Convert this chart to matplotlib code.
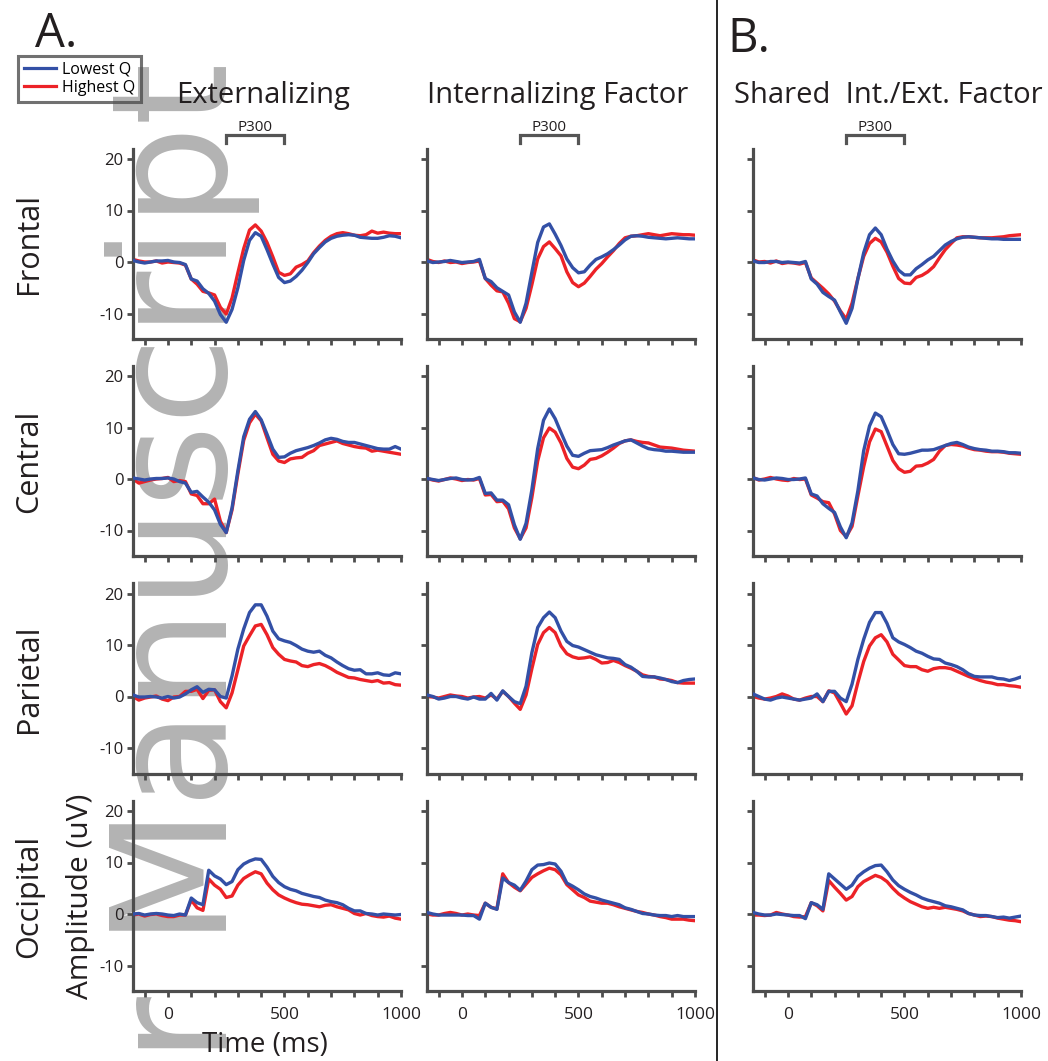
import numpy as np
import matplotlib
matplotlib.use('Agg')
import matplotlib.pyplot as plt
from matplotlib.lines import Line2D

plt.rcParams['font.family'] = ['Open Sans', 'DejaVu Sans']
plt.rcParams['axes.unicode_minus'] = False

# sample times (ms), 25 ms steps
time_ms = np.arange(-150, 1001, 25)

regions = ['Frontal', 'Central', 'Parietal', 'Occipital']
factors = ['Externalizing', 'Internalizing Factor', 'Shared  Int./Ext. Factor']
legend_labels = ['Lowest Q', 'Highest Q']

# ---- Frontal ----
ext_frontal_low = [0.3, 0.0, -0.2, 0.0, 0.2, 0.2, 0.3, 0.0, -0.1, -0.5, -3.3,
                   -3.7, -5.2, -6.1, -7.6, -10.2, -11.7, -9.2, -5.0, 0.3, 4.2,
                   5.7, 5.0, 2.4, -0.4, -3.0, -4.0, -3.7, -2.8, -1.6, -0.1,
                   1.6, 2.8, 3.9, 4.6, 5.0, 5.2, 5.3, 5.2, 4.8, 4.7,
                   4.6, 4.6, 4.8, 5.1, 5.0, 4.7]
ext_frontal_high = [0.5, 0.2, 0.0, 0.0, 0.2, -0.2, 0.0, -0.1, -0.2, -0.6, -3.3,
                    -4.3, -5.7, -6.0, -6.4, -8.8, -10.1, -7.0, -2.1, 2.6, 6.2,
                    7.2, 6.0, 3.8, 1.0, -2.0, -2.6, -2.3, -1.0, -0.5, 0.2,
                    1.8, 3.1, 4.2, 5.0, 5.5, 5.7, 5.5, 5.2, 5.1, 5.3,
                    6.0, 5.6, 5.8, 5.6, 5.5, 5.5]
int_frontal_low = [0.2, -0.1, 0.0, 0.1, 0.3, 0.1, -0.1, 0.0, 0.1, 0.5, -3.2,
                   -3.8, -5.0, -5.7, -6.4, -9.7, -11.7, -8.0, -2.0, 3.8, 6.8,
                   7.4, 5.4, 3.2, 0.6, -1.1, -2.1, -1.9, -0.6, 0.5, 1.0,
                   1.6, 2.4, 3.3, 4.3, 5.0, 5.1, 5.0, 4.8, 4.7, 4.6,
                   4.5, 4.6, 4.7, 4.6, 4.5, 4.5]
int_frontal_high = [0.5, 0.1, -0.1, 0.2, -0.1, 0.0, -0.3, -0.1, 0.0, 0.2, -3.2,
                    -4.5, -5.6, -5.8, -8.0, -11.0, -11.6, -9.0, -4.4, 0.6, 3.0,
                    3.9, 2.6, 1.2, -1.9, -4.0, -4.8, -4.1, -2.8, -1.4, -0.3,
                    1.0, 2.2, 3.6, 4.7, 5.0, 5.1, 5.3, 5.5, 5.3, 5.1,
                    5.3, 5.5, 5.4, 5.3, 5.3, 5.2]
shr_frontal_low = [0.2, -0.1, -0.1, 0.1, 0.1, -0.1, 0.0, -0.1, -0.2, 0.1, -3.3,
                   -4.3, -5.9, -6.7, -7.4, -9.7, -11.9, -9.0, -3.3, 1.8, 5.3,
                   6.6, 5.3, 2.5, 0.2, -1.6, -2.5, -2.5, -1.3, -0.5, 0.4,
                   1.1, 2.2, 3.3, 4.0, 4.5, 4.8, 4.9, 4.8, 4.7, 4.6,
                   4.5, 4.5, 4.4, 4.4, 4.4, 4.4]
shr_frontal_high = [0.4, 0.0, 0.1, -0.2, 0.2, -0.3, -0.1, -0.2, -0.4, -0.1, -3.1,
                    -4.1, -5.1, -6.2, -7.6, -9.5, -11.1, -8.0, -3.2, 1.1, 3.6,
                    4.6, 3.9, 1.9, -0.8, -3.2, -4.1, -4.2, -3.0, -2.6, -1.9,
                    -0.9, 0.8, 2.4, 3.6, 4.7, 4.9, 4.9, 4.8, 4.7, 4.7,
                    4.7, 4.8, 4.9, 5.1, 5.2, 5.3]

# ---- Central ----
ext_central_low = [0.2, 0.0, -0.2, 0.0, 0.1, 0.1, 0.2, 0.0, -0.5, -0.8, -2.6,
                   -2.4, -3.5, -4.5, -6.0, -8.8, -10.4, -5.6, 1.6, 8.2, 11.6,
                   13.1, 11.5, 8.7, 5.8, 4.2, 4.3, 5.0, 5.5, 5.8, 6.1,
                   6.5, 7.0, 7.6, 7.9, 7.7, 7.3, 7.1, 7.1, 6.8, 6.5,
                   6.2, 5.9, 5.8, 5.8, 6.3, 5.8]
ext_central_high = [0.0, -0.8, -0.5, -0.2, 0.0, 0.1, 0.3, -0.5, -0.3, -0.5, -2.9,
                    -3.2, -4.8, -4.8, -3.9, -8.2, -10.4, -6.0, 1.0, 7.5, 10.9,
                    12.6, 11.3, 8.0, 4.8, 3.5, 3.2, 3.9, 4.1, 4.2, 5.0,
                    5.5, 6.5, 6.8, 7.1, 7.4, 6.9, 6.6, 6.3, 6.1, 6.0,
                    5.4, 5.6, 5.4, 5.2, 5.0, 4.8]
int_central_low = [0.1, -0.1, -0.3, -0.1, 0.1, 0.2, -0.1, -0.2, -0.1, 0.3, -2.8,
                   -2.7, -4.1, -4.1, -5.0, -8.9, -11.7, -8.6, -2.1, 5.9, 11.4,
                   13.6, 11.7, 9.0, 6.4, 4.6, 4.4, 5.0, 5.5, 5.6, 5.7,
                   6.1, 6.6, 7.0, 7.4, 7.6, 7.0, 6.4, 5.9, 5.7, 5.6,
                   5.4, 5.4, 5.3, 5.2, 5.2, 5.2]
int_central_high = [0.1, -0.2, -0.4, -0.1, 0.2, 0.0, -0.3, -0.1, -0.2, 0.1, -3.1,
                    -3.0, -4.4, -4.3, -5.8, -9.5, -11.6, -9.5, -3.6, 3.5, 8.0,
                    9.9, 9.1, 7.0, 4.0, 2.3, 2.0, 2.7, 3.8, 4.0, 4.5,
                    5.2, 6.0, 6.9, 7.4, 7.6, 7.3, 7.1, 7.0, 6.6, 6.2,
                    6.1, 6.0, 5.8, 5.6, 5.5, 5.4]
shr_central_low = [0.2, -0.1, -0.2, 0.0, 0.2, 0.1, -0.1, -0.1, 0.0, 0.2, -2.9,
                   -3.3, -4.8, -5.7, -6.5, -9.3, -11.4, -8.5, -2.3, 5.5, 10.3,
                   12.8, 12.1, 9.5, 6.7, 4.9, 4.8, 5.0, 5.3, 5.6, 5.6,
                   5.7, 6.1, 6.5, 6.9, 7.1, 6.7, 6.2, 5.9, 5.7, 5.6,
                   5.4, 5.4, 5.3, 5.1, 5.1, 5.0]
shr_central_high = [0.3, -0.2, 0.0, 0.3, 0.0, -0.2, -0.3, 0.1, -0.1, 0.0, -3.1,
                    -3.7, -4.4, -4.6, -6.8, -10.0, -11.2, -9.2, -3.3, 2.4, 7.2,
                    9.7, 9.2, 6.4, 3.6, 2.0, 1.3, 1.5, 2.5, 2.6, 3.1,
                    3.8, 5.4, 6.5, 6.7, 6.6, 6.4, 6.0, 5.7, 5.6, 5.4,
                    5.3, 5.3, 5.2, 5.0, 4.9, 4.8]

# ---- Parietal ----
ext_parietal_low = [0.3, -0.1, -0.1, 0.0, -0.1, -0.3, 0.0, -0.3, -0.1, 0.5, 1.3,
                    1.9, 0.8, 1.4, 1.3, 0.0, -0.3, 4.0, 9.2, 13.1, 16.3,
                    17.8, 17.8, 15.6, 12.7, 11.2, 10.8, 10.5, 9.9, 9.2, 8.8,
                    8.6, 8.8, 8.0, 7.5, 6.7, 6.0, 5.4, 5.1, 5.2, 4.4,
                    4.4, 4.6, 4.2, 4.1, 4.6, 4.4]
ext_parietal_high = [0.0, -0.7, -0.3, -0.1, 0.1, -0.5, -0.8, -0.1, 0.0, 1.0, 1.0,
                     1.4, -0.4, 1.2, 1.3, -1.0, -2.2, 0.7, 5.2, 9.8, 11.8,
                     13.7, 14.0, 12.0, 9.5, 8.2, 7.2, 6.9, 6.7, 6.0, 5.8,
                     6.2, 6.4, 6.0, 5.4, 4.7, 4.2, 3.7, 3.6, 3.3, 3.1,
                     2.9, 3.1, 2.6, 2.7, 2.3, 2.2]
int_parietal_low = [0.3, 0.0, -0.5, -0.3, 0.0, 0.0, -0.3, -0.5, -0.1, -0.5, -0.5,
                    0.6, -0.7, 1.1, 0.0, -1.0, -1.4, 2.0, 8.5, 13.4, 15.3,
                    16.4, 15.3, 12.7, 10.7, 9.9, 9.6, 9.1, 8.6, 8.1, 7.8,
                    7.5, 7.4, 7.2, 6.2, 5.7, 4.9, 3.9, 3.8, 3.8, 3.6,
                    3.3, 2.9, 2.7, 3.1, 3.3, 3.4]
int_parietal_high = [0.0, -0.1, -0.3, 0.0, 0.3, 0.1, 0.0, -0.3, -0.1, 0.0, -0.3,
                     0.3, -0.5, 1.0, 0.0, -1.3, -2.5, 0.3, 5.4, 10.1, 12.4,
                     13.4, 12.4, 9.8, 8.3, 7.7, 7.4, 7.5, 7.7, 7.2, 6.5,
                     6.6, 7.0, 6.6, 6.0, 5.5, 4.9, 4.2, 3.9, 3.8, 3.4,
                     3.3, 3.1, 2.7, 2.6, 2.6, 2.6]
shr_parietal_low = [0.5, 0.0, -0.5, -0.7, -0.3, -0.1, -0.3, -0.5, -0.7, -0.5, -0.3,
                    0.5, -1.0, 1.0, 1.0, -0.3, -1.0, 2.4, 7.2, 11.1, 14.4,
                    16.3, 16.3, 14.2, 11.4, 10.6, 10.1, 9.5, 8.8, 8.4, 7.8,
                    7.3, 7.2, 6.5, 6.2, 5.8, 5.2, 4.4, 3.9, 3.8, 3.8,
                    3.8, 3.5, 3.4, 3.1, 3.4, 3.8]
shr_parietal_high = [0.0, -0.3, -0.5, -0.3, 0.0, 0.5, 0.1, -0.5, -0.7, -0.3, 0.0,
                     0.0, -1.0, 1.1, 0.7, -1.3, -3.4, -1.8, 2.7, 6.8, 9.8,
                     11.4, 12.0, 10.6, 8.2, 7.1, 6.0, 5.8, 5.8, 5.2, 4.9,
                     5.4, 5.6, 5.6, 5.4, 4.9, 4.4, 3.9, 3.5, 3.1, 2.8,
                     2.6, 2.3, 2.3, 2.1, 2.0, 1.8]

# ---- Occipital ----
ext_occipital_low = [0.0, 0.1, -0.2, 0.0, 0.1, 0.0, -0.2, -0.3, 0.0, -0.2, 3.1,
                     2.2, 1.8, 8.5, 7.4, 6.8, 5.7, 6.3, 8.6, 9.7, 10.3,
                     10.7, 10.6, 9.1, 7.3, 6.1, 5.3, 4.8, 4.5, 4.0, 3.7,
                     3.4, 3.2, 2.7, 2.4, 2.2, 1.8, 1.1, 0.6, 0.6, 0.1,
                     0.0, -0.2, 0.0, -0.1, -0.2, -0.1]
ext_occipital_high = [-0.2, 0.0, -0.4, -0.1, 0.0, -0.3, -0.5, -0.5, -0.2, -0.2, 2.7,
                      1.2, 0.7, 6.8, 5.6, 4.8, 3.2, 3.5, 5.6, 6.9, 7.6,
                      8.2, 7.8, 6.0, 4.7, 3.7, 3.1, 2.6, 2.2, 1.9, 1.8,
                      1.6, 1.4, 1.7, 1.8, 1.4, 1.1, 0.8, 0.1, -0.2, 0.1,
                      -0.3, -0.5, -0.6, -0.4, -0.8, -1.0]
int_occipital_low = [0.3, 0.0, -0.2, -0.2, -0.2, -0.2, -0.2, -0.3, -0.3, -1.0, 2.1,
                     1.3, 0.9, 7.0, 6.1, 5.6, 4.6, 6.4, 8.6, 9.5, 9.6,
                     9.9, 9.7, 8.3, 6.0, 5.4, 4.7, 3.9, 3.4, 3.1, 2.7,
                     2.4, 2.1, 1.8, 1.2, 0.9, 0.5, 0.1, 0.0, -0.2, -0.3,
                     -0.3, -0.5, -0.3, -0.5, -0.5, -0.5]
int_occipital_high = [0.0, -0.2, -0.2, 0.1, 0.3, 0.1, -0.2, 0.0, -0.2, -0.3, 2.1,
                      1.3, 1.0, 7.8, 6.1, 5.2, 4.5, 5.8, 7.1, 7.8, 8.4,
                      8.9, 8.6, 7.6, 5.7, 4.7, 3.7, 3.2, 2.5, 2.3, 2.1,
                      2.1, 1.8, 1.4, 1.1, 0.8, 0.5, 0.3, 0.0, -0.2, -0.5,
                      -0.7, -1.0, -1.0, -1.0, -1.2, -1.3]
shr_occipital_low = [0.3, 0.0, -0.2, -0.2, 0.0, -0.1, -0.2, -0.3, -0.3, -0.9, 2.2,
                     1.8, 0.9, 7.8, 6.8, 5.8, 4.8, 5.6, 7.3, 8.2, 8.9,
                     9.4, 9.5, 8.2, 6.6, 5.5, 4.8, 4.2, 3.7, 3.1, 2.7,
                     2.4, 2.1, 1.6, 1.4, 1.1, 0.8, 0.1, -0.2, -0.3, -0.3,
                     -0.5, -0.7, -0.6, -0.8, -0.6, -0.4]
shr_occipital_high = [-0.2, -0.2, -0.3, -0.2, 0.3, 0.0, -0.2, -0.5, -0.6, -0.5, 2.2,
                      1.6, 0.6, 6.5, 5.2, 4.0, 2.7, 3.4, 5.3, 6.3, 6.9,
                      7.5, 7.1, 6.3, 5.0, 3.9, 3.1, 2.4, 1.9, 1.4, 1.1,
                      1.3, 1.1, 1.3, 1.1, 0.9, 0.6, 0.1, -0.2, -0.5, -0.4,
                      -0.5, -0.8, -1.0, -1.2, -1.3, -1.5]

lowest_q = [[ext_frontal_low, int_frontal_low, shr_frontal_low],
            [ext_central_low, int_central_low, shr_central_low],
            [ext_parietal_low, int_parietal_low, shr_parietal_low],
            [ext_occipital_low, int_occipital_low, shr_occipital_low]]
highest_q = [[ext_frontal_high, int_frontal_high, shr_frontal_high],
             [ext_central_high, int_central_high, shr_central_high],
             [ext_parietal_high, int_parietal_high, shr_parietal_high],
             [ext_occipital_high, int_occipital_high, shr_occipital_high]]

BLUE = '#3350a6'
RED = '#ec2227'
AXC = '#4d4d4d'
TXT = '#231f20'

W, H = 1048, 1061
fig = plt.figure(figsize=(W / 100, H / 100), dpi=100)

# layout in pixels
col_left = [133, 427, 753]
ax_w = 268
row_zero = [262, 479, 696.5, 914]
px_uv = 5.15
ymin, ymax = -15, 22
ax_h = (ymax - ymin) * px_uv

# watermark behind everything
fig.text(227 / W, 1 - 62 / H, 'Author Manuscript', rotation=90, rotation_mode='anchor',
         ha='right', va='baseline', fontsize=115, color='#b3b3b3',
         family='DejaVu Sans', zorder=-5)

for r in range(4):
    top = row_zero[r] - ymax * px_uv
    for c in range(3):
        ax = fig.add_axes([col_left[c] / W, 1 - (top + ax_h) / H, ax_w / W, ax_h / H])
        ax.patch.set_alpha(0)
        ax.plot(time_ms, highest_q[r][c], color=RED, lw=2.4, zorder=2)
        ax.plot(time_ms, lowest_q[r][c], color=BLUE, lw=2.4, zorder=3)
        ax.set_xlim(-150, 1000)
        ax.set_ylim(ymin, ymax)

        for s in ['top', 'right']:
            ax.spines[s].set_visible(False)
        for s in ['left', 'bottom']:
            ax.spines[s].set_linewidth(2.3)
            ax.spines[s].set_color(AXC)

        ax.set_yticks([-10, 0, 10, 20])
        ax.set_xticks(np.arange(-100, 1001, 100))
        ax.tick_params(direction='out', length=4, width=2, color=AXC,
                       labelcolor=TXT, labelsize=12)
        ax.tick_params(axis='x', pad=7, labelsize=12.5)
        ax.tick_params(axis='y', pad=3)
        if c == 0:
            ax.set_yticklabels(['-10', '0', '10', '20'])
        else:
            ax.set_yticklabels([])
        if r == 3:
            ax.set_xticklabels(['0' if t == 0 else '500' if t == 500 else '1000' if t == 1000 else ''
                                for t in np.arange(-100, 1001, 100)])
        else:
            ax.set_xticklabels([])

        if r == 0:
            ax.plot([250, 250, 500, 500], [23.1, 24.7, 24.7, 23.1], color='#555555',
                    lw=2.3, clip_on=False, solid_joinstyle='miter')
            ax.text(375, 25.4, 'P300', ha='center', va='baseline', fontsize=11,
                    color=TXT, clip_on=False)

# column titles
for x, name in zip([263, 558, 888], factors):
    fig.text(x / W, 1 - 103 / H, name, ha='center', va='baseline', fontsize=21, color=TXT)

# row labels
for r, name in enumerate(regions):
    yc = row_zero[r] - 18
    fig.text(37 / W, 1 - yc / H, name, rotation=90, rotation_mode='anchor',
             ha='center', va='baseline', fontsize=22, color=TXT)

fig.text(88 / W, 1 - 896 / H, 'Amplitude (uV)', rotation=90, rotation_mode='anchor',
         ha='center', va='baseline', fontsize=21.5, color=TXT)
fig.text(265 / W, 1 - 1052 / H, 'Time (ms)', ha='center', va='baseline', fontsize=20, color=TXT)

fig.text(35 / W, 1 - 47 / H, 'A.', fontsize=34, va='baseline', ha='left', color=TXT)
fig.text(727 / W, 1 - 52 / H, 'B.', fontsize=34, va='baseline', ha='left', color=TXT)

# divider between A and B
fig.add_artist(Line2D([717 / W, 717 / W], [0, 1], color='black', lw=1.2))

handles = [Line2D([], [], color=BLUE, lw=2.3), Line2D([], [], color=RED, lw=2.3)]
leg = fig.legend(handles, legend_labels, loc='upper left', bbox_to_anchor=(18 / W, 1 - 56 / H),
                 borderaxespad=0, frameon=True, fancybox=False, edgecolor=AXC, facecolor='none',
                 fontsize=11.5, handlelength=2.0, handletextpad=0.4, labelspacing=0.15,
                 borderpad=0.35)
leg.get_frame().set_linewidth(2.2)

fig.savefig('out.png', dpi=100)
